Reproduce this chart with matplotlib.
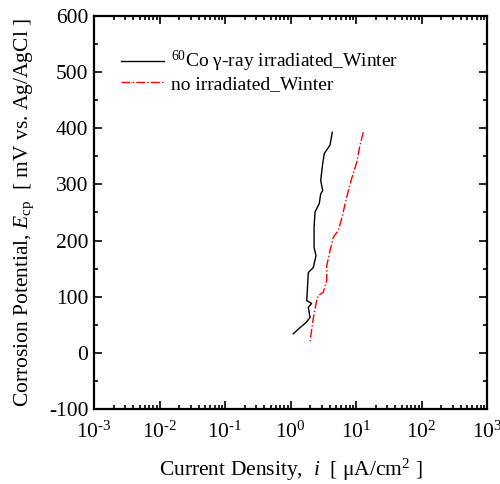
import matplotlib
matplotlib.use("Agg")
import matplotlib.pyplot as plt
import numpy as np
from matplotlib.ticker import LogLocator, MultipleLocator, FuncFormatter

plt.rcParams['font.family'] = ['Liberation Serif', 'DejaVu Serif']
plt.rcParams['mathtext.fontset'] = 'custom'
plt.rcParams['mathtext.rm'] = 'Liberation Serif'
plt.rcParams['mathtext.it'] = 'Liberation Serif:italic'
plt.rcParams['axes.unicode_minus'] = False

# 60Co irradiated, winter
irr_i = [4.35, 4.01, 3.28, 3.10, 2.89, 3.10, 2.89, 2.75, 2.37, 2.29, 2.29, 2.45,
         2.23, 1.87, 1.77, 2.10, 1.87, 1.99, 1.73, 1.40, 1.10]
irr_e = [393, 370, 355, 337, 307, 289, 283, 266, 251, 224, 188, 173,
         152, 143, 93, 88, 81, 63, 54, 45, 34]

# no irradiation, winter
non_i = [12.9, 11.5, 10.3, 8.57, 7.19, 6.04, 5.37, 4.51, 4.01, 3.57, 3.57,
         3.17, 2.66, 2.51, 2.24, 1.99]
non_e = [393, 370, 340, 310, 277, 239, 218, 206, 182, 155, 129,
         108, 102, 93, 63, 21]


def dec_fmt(v, pos):
    p = int(round(np.log10(v)))
    return r'$10^{\text{%d}}$' % p


fig = plt.figure(figsize=(5, 4.84), dpi=100)
ax = fig.add_axes([0.188, 0.155, 0.786, 0.812])

ax.plot(irr_i, irr_e, color='black', lw=1.0,
        label=r'$^{60}$Co γ-ray irradiated_Winter')
ax.plot(non_i, non_e, color='red', lw=1.0, ls='-.',
        label='no irradiated_Winter')

ax.set_xscale('log')
ax.set_xlim(1e-3, 1e3)
ax.set_ylim(-100, 600)
ax.xaxis.set_major_locator(LogLocator(base=10, numticks=10))
ax.xaxis.set_minor_locator(LogLocator(base=10, subs=range(2, 10), numticks=100))
ax.xaxis.set_major_formatter(FuncFormatter(dec_fmt))
ax.yaxis.set_major_locator(MultipleLocator(100))
ax.yaxis.set_minor_locator(MultipleLocator(50))

ax.tick_params(which='both', direction='in', top=True, right=True,
               labelsize=15.5, width=1.2)
ax.tick_params(which='major', length=6, pad=4)
ax.tick_params(which='minor', length=3)
ax.tick_params(axis='x', which='major', pad=9)
for s in ax.spines.values():
    s.set_linewidth(1.6)

ax.set_xlabel(r'Current Density,  $i$  [ μA/cm$^2$ ]', fontsize=15.5, labelpad=10)
ax.set_ylabel(r'Corrosion Potential, $E_{\rm cp}$  [ mV vs. Ag/AgCl ]', fontsize=15.5,
              labelpad=9)

ax.legend(loc='upper left', bbox_to_anchor=(0.025, 0.96), frameon=False,
          fontsize=14, handlelength=2.2, handletextpad=0.35, labelspacing=0.05)

fig.savefig('out.png', dpi=100)
